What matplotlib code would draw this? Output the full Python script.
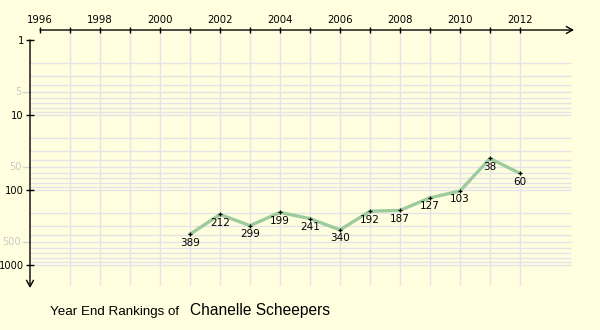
import numpy as np
import matplotlib.pyplot as plt
from matplotlib.ticker import FixedLocator, NullLocator

# classements de fin d'annee
annees = [2001, 2002, 2003, 2004, 2005, 2006, 2007, 2008, 2009, 2010, 2011, 2012]
rangs = [389, 212, 299, 199, 241, 340, 192, 187, 127, 103, 38, 60]

annees_axe = list(range(1996, 2013))
annees_label = [a if a % 2 == 0 else '' for a in annees_axe]
rangs_maj = [1, 10, 100, 1000]
rangs_min = [5, 50, 500]

fond = '#FFFFE0'
grille = '#E4E4E8'
vert = '#9DCB9D'

fig = plt.figure(figsize=(6, 3.3), dpi=100, facecolor=fond)
# 30 px par annee, 75 px par decade
ax = fig.add_axes([30 / 600, 1 - 287 / 330, 542 / 600, 257 / 330])
ax.set_facecolor(fond)
x0, x1 = 1996 - 10 / 30, 1996 + 532 / 30
ax.set_xlim(x0, x1)
ax.set_yscale('log')
y_haut = 10 ** (-10 / 75)
y_bas = 10 ** (247 / 75)
ax.set_ylim(y_bas, y_haut)

for s in ax.spines.values():
    s.set_visible(False)

# grille
lignes_h = [m * 10 ** e for e in range(3) for m in range(1, 10)][1:] + [1000]
ax.hlines(lignes_h, x0, 1996 + 531 / 30, color=grille, lw=1, zorder=0)
ax.vlines(range(1997, 2013), 10 ** (245 / 75), y_haut, color=grille, lw=1, zorder=0, clip_on=False)

# axes avec fleches
ax.annotate('', xy=(1996 + 534 / 30, y_haut), xytext=(1996, y_haut),
            arrowprops=dict(arrowstyle='->,head_length=0.45,head_width=0.25', lw=1, color='k',
                            shrinkA=0, shrinkB=0), annotation_clip=False)
ax.annotate('', xy=(x0, 10 ** (248 / 75)), xytext=(x0, 1),
            arrowprops=dict(arrowstyle='->,head_length=0.45,head_width=0.25', lw=1, color='k',
                            shrinkA=0, shrinkB=0), annotation_clip=False)

ax.xaxis.tick_top()
ax.set_xticks(annees_axe)
ax.set_xticklabels(annees_label, fontsize=7.3)
ax.tick_params(axis='x', direction='inout', length=4, width=1, pad=1.5, color='k')

ax.yaxis.set_major_locator(FixedLocator(rangs_maj))
ax.yaxis.set_minor_locator(NullLocator())
ax.set_yticks(rangs_maj, [str(r) for r in rangs_maj])
ax.tick_params(axis='y', which='major', direction='inout', length=6, width=1, pad=1.5, labelsize=7.1)

# graduations secondaires en gris
tr = ax.get_yaxis_transform()
for r in rangs_min:
    ax.plot([-0.012, 0], [r, r], color='#D4D4D4', lw=1, transform=tr, clip_on=False)
    ax.text(-0.016, r, str(r), transform=tr, ha='right', va='center',
            fontsize=7.1, color='#C8C8C8')

ax.plot(annees, rangs, color=vert, lw=2.4, solid_joinstyle='round', zorder=3)
ax.plot(annees, rangs, '+', color='k', ms=3, mew=0.9, zorder=4)
for a, r in zip(annees, rangs):
    ax.annotate(str(r), (a, r), xytext=(0, -2.5), textcoords='offset points',
                ha='center', va='top', fontsize=7.5, zorder=5)

fig.text(50 / 600, 1 - 315 / 330, 'Year End Rankings of', fontsize=9.6,
         family='Liberation Sans', va='baseline')
fig.text(190 / 600, 1 - 315 / 330, 'Chanelle Scheepers', fontsize=11.2,
         family='Liberation Sans', va='baseline')

fig.savefig('out.png', dpi=100, facecolor=fond)
